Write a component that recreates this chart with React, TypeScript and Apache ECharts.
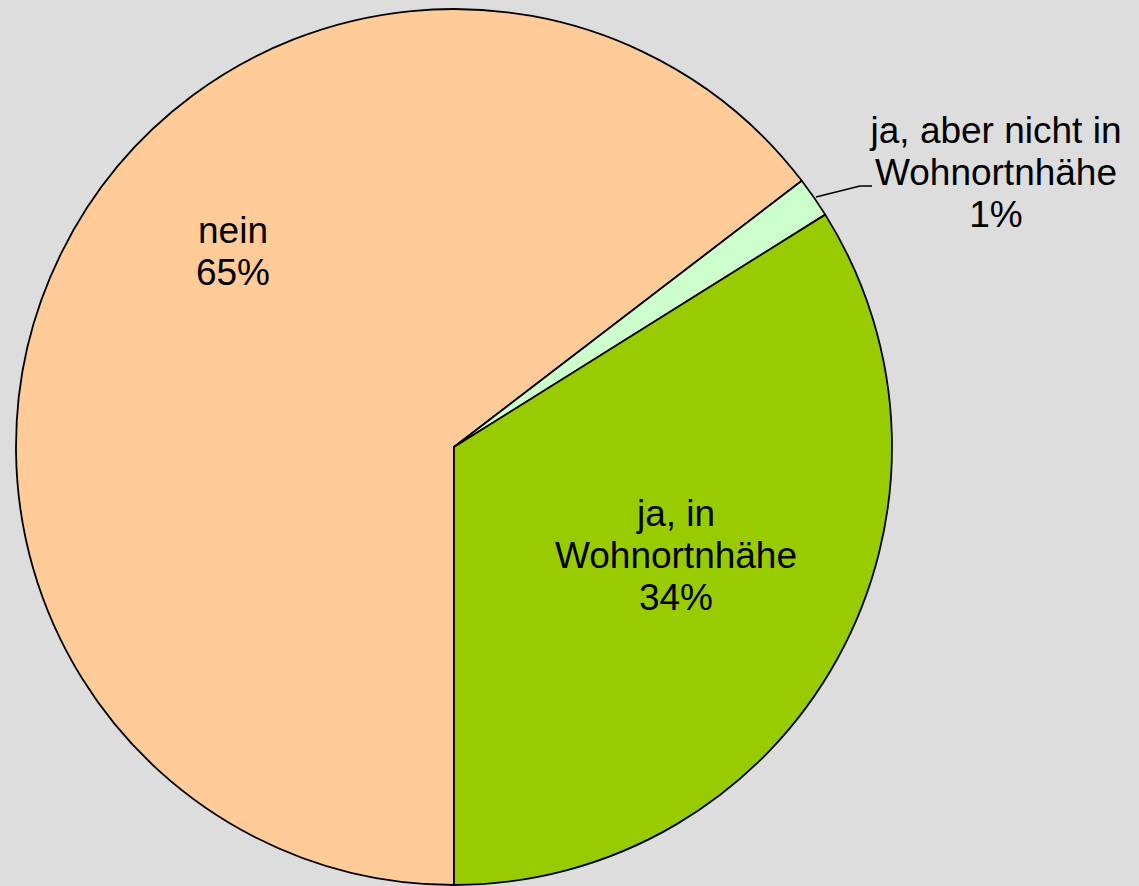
import React, { useEffect, useRef } from "react";
import * as echarts from "echarts";

const categories = ["nein", "ja, aber nicht in\nWohnortnhähe", "ja, in\nWohnortnhähe"];
const values = [64.6, 1.5, 33.9];
const colors = ["#FFCC99", "#CCFFCC", "#99CC00"];

export default function App() {
  const ref = useRef<HTMLDivElement>(null);
  useEffect(() => {
    const chart = echarts.init(ref.current!, null, { renderer: "svg" });
    const cx = 454;
    const cy = 447;
    const labelPos: Record<number, any> = {
      0: { x: 233, y: 251, align: "center", verticalAlign: "middle" },
      1: {
        x: 996,
        y: 172,
        align: "center",
        verticalAlign: "middle",
        labelLinePoints: [
          [816, 197],
          [860, 186],
          [872, 186],
        ],
      },
      2: { x: 676, y: 555, align: "center", verticalAlign: "middle" },
    };
    chart.setOption({
      animation: false,
      backgroundColor: "#DDDDDD",
      series: [
        {
          type: "pie",
          center: [cx, cy],
          radius: 438,
          startAngle: -90,
          clockwise: true,
          percentPrecision: 0,
          avoidLabelOverlap: false,
          itemStyle: { borderColor: "#000", borderWidth: 1.8 },
          label: {
            show: true,
            formatter: "{b}\n{d}%",
            fontFamily: "Liberation Sans, Arial, sans-serif",
            fontSize: 37,
            lineHeight: 42,
            color: "#000",
            align: "center",
          },
          labelLine: { show: false },
          labelLayout: (params: any) => labelPos[params.dataIndex],
          data: categories.map((name, i) => ({
            name,
            value: values[i],
            itemStyle: { color: colors[i] },
            label: { position: i === 1 ? "outside" : "inside" },
            labelLine: {
              show: i === 1,
              lineStyle: { color: "#000", width: 1.5 },
            },
          })),
        },
      ],
    });
    return () => chart.dispose();
  }, []);
  return (
    <div
      ref={ref}
      style={{ position: "fixed", left: 0, top: 0, width: 1139, height: 886 }}
    />
  );
}
